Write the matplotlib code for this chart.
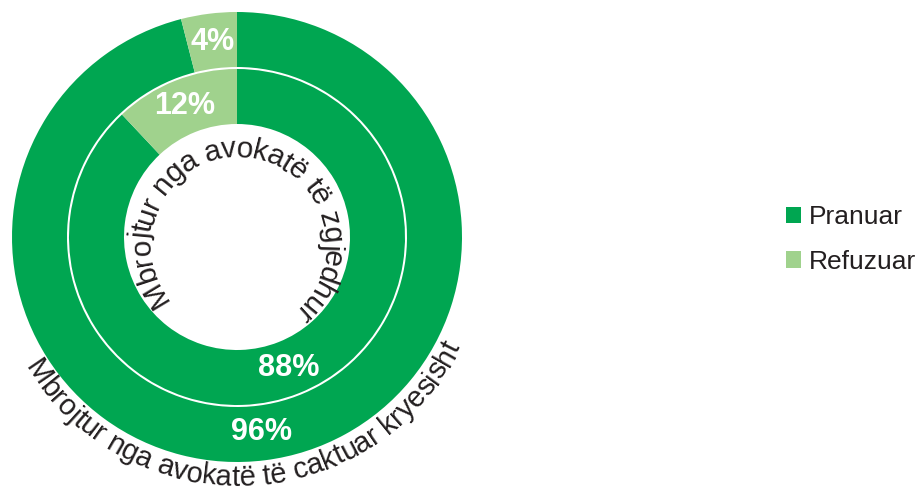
import numpy as np
import matplotlib.pyplot as plt
from matplotlib.font_manager import FontProperties

# te dhenat
categories = ["Pranuar", "Refuzuar"]
outer_values = [96, 4]   # Mbrojtur nga avokatë të caktuar kryesisht
inner_values = [88, 12]  # Mbrojtur nga avokatë të zgjedhur
outer_title = "Mbrojtur nga avokatë të caktuar kryesisht"
inner_title = "Mbrojtur nga avokatë të zgjedhur"

colors = ["#00A651", "#A0D28D"]
text_color = "#231F20"
font = "Liberation Sans"

fig = plt.figure(figsize=(9.18, 4.92), dpi=100)
ax = fig.add_axes([0, 0, 1, 1])
cx, cy = 237, 255  # 1 njesi = 1 piksel

wedges_out, _ = ax.pie(outer_values, radius=225, center=(cx, cy), startangle=90,
                       counterclock=False, colors=colors,
                       wedgeprops=dict(width=55, linewidth=0))
wedges_in, _ = ax.pie(inner_values, radius=168, center=(cx, cy), startangle=90,
                      counterclock=False, colors=colors,
                      wedgeprops=dict(width=55, linewidth=0))
ax.set_xlim(0, 918)
ax.set_ylim(0, 492)
ax.set_aspect("equal")
ax.axis("off")


def pct_labels(wedges, values, r):
    for w, v in zip(wedges, values):
        a = np.deg2rad((w.theta1 + w.theta2) / 2)
        ax.text(cx + r * np.cos(a), cy + r * np.sin(a), f"{v}%", ha="center",
                va="center", color="white", fontsize=22, fontweight="bold",
                family=font)


pct_labels(wedges_out, outer_values, 197)
pct_labels(wedges_in, inner_values, 141)

renderer = fig.canvas.get_renderer()


def text_width(s, prop):
    return renderer.get_text_width_height_descent(s, prop, ismath=False)[0]


def curved_text(text, ccx, ccy, r_base, r_layout, mid_deg, size, clockwise):
    # shkronjat vendosen nje nga nje pergjate harkut
    prop = FontProperties(family=font, size=size)
    ref = text_width("nn", prop)
    widths = np.array([text_width("n" + ch + "n", prop) - ref for ch in text])
    pos = np.cumsum(widths) - widths / 2 - widths.sum() / 2
    sign = -1 if clockwise else 1
    for ch, s in zip(text, pos):
        ang = mid_deg + sign * np.rad2deg(s / r_layout)
        a = np.deg2rad(ang)
        rot = ang - 90 if clockwise else ang + 90
        ax.text(ccx + r_base * np.cos(a), ccy + r_base * np.sin(a), ch,
                rotation=rot, rotation_mode="anchor", ha="center",
                va="baseline", fontproperties=prop, color=text_color)


curved_text(inner_title, 237, 248, 87, 93, 84, 21.5, clockwise=True)
curved_text(outer_title, 237, 255, 249, 250, 272.6, 21, clockwise=False)

ax.legend(wedges_out, categories, loc="center left", bbox_to_anchor=(786, 252.5),
          bbox_transform=ax.transData, frameon=False,
          prop=FontProperties(family=font, size=19), handlelength=0.57,
          handleheight=0.57, handletextpad=0.3, labelspacing=0.78,
          borderpad=0, borderaxespad=0, labelcolor=text_color)

fig.savefig("out.png", dpi=100)
